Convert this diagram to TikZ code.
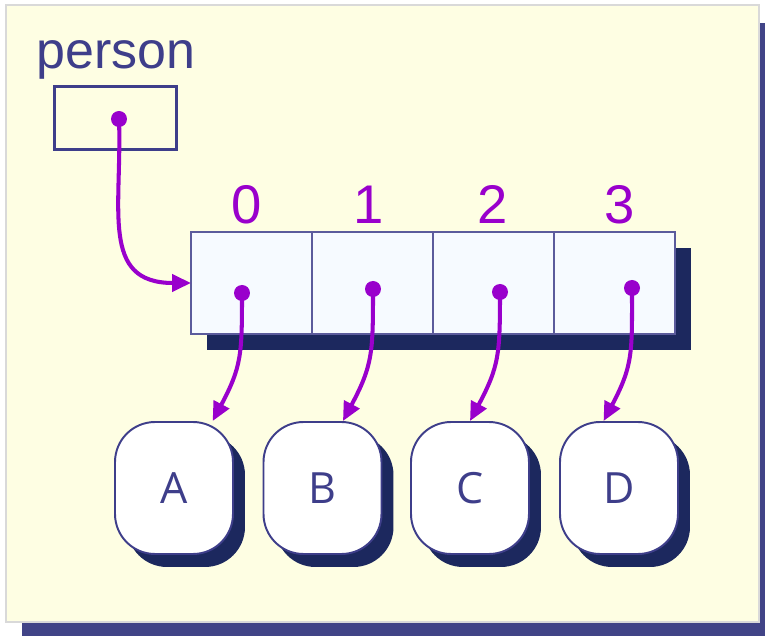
\documentclass[tikz,border=0pt]{standalone}
\usepackage{fontspec}
\setmainfont{Liberation Sans}
\newfontfamily\letterfont{Open Sans}
\usetikzlibrary{arrows.meta,shadows,positioning}
\definecolor{panel}{RGB}{254,254,227}
\definecolor{panelline}{RGB}{217,217,217}
\definecolor{panelshadow}{RGB}{65,68,135}
\definecolor{navy}{RGB}{62,62,138}
\definecolor{shadownavy}{RGB}{28,40,94}
\definecolor{ptrcol}{RGB}{153,0,204}
\definecolor{cellfill}{RGB}{246,250,255}

\begin{document}
\begin{tikzpicture}[x=0.02cm,y=0.02cm,
    cell/.style={draw=navy!85, line width=1.1pt, fill=cellfill, outer sep=0pt, inner sep=0pt,
        minimum width=2.42cm, minimum height=2.04cm,
        drop shadow={fill=shadownavy, opacity=1, shadow xshift=0.32cm, shadow yshift=-0.32cm}},
    obj/.style={draw=navy, line width=1.1pt, fill=white, rounded corners=0.8cm, inner sep=0pt,
        minimum width=2.36cm, minimum height=2.64cm, text=navy, font=\letterfont\fontsize{24.5}{26}\selectfont,
        drop shadow={fill=shadownavy, opacity=1, shadow xshift=0.24cm, shadow yshift=-0.26cm}},
    idx/.style={text=ptrcol, anchor=base, font=\fontsize{31}{33}\selectfont},
    pointer/.style={ptrcol, line width=2.3pt, -{Triangle[length=0.38cm,width=0.34cm]}}]
    \useasboundingbox (0,0) rectangle (765,636);
    \fill[white] (0,0) rectangle (765,636);
    \fill[panelshadow] (22,-4) rectangle (776,613);
    \draw[panelline, fill=panel, line width=1.2pt] (6,14) rectangle (759,631);

    \node[text=navy, anchor=base, font=\fontsize{29.6}{32}\selectfont] (name) at (116,567) {person};
    \node[draw=navy, line width=1.7pt, minimum width=2.44cm, minimum height=1.26cm] (var) at (115.5,518) {};
    \coordinate (p) at (119,517);

    \node[cell] (c0) at (251.5,353) {};
    \node[cell, right=0pt of c0] (c1) {};
    \node[cell, right=0pt of c1] (c2) {};
    \node[cell, right=0pt of c2] (c3) {};

    \node[idx] (i0) at (247,412) {0};
    \node[idx] (i1) at (369,412) {1};
    \node[idx] (i2) at (493,412) {2};
    \node[idx] (i3) at (620,412) {3};

    \coordinate (d0) at (242,343);
    \coordinate (d1) at (373,347);
    \coordinate (d2) at (500,344);
    \coordinate (d3) at (632,348);

    \node[obj] (A) at (174,148) {A};
    \node[obj] (B) at (322.5,148) {B};
    \node[obj] (C) at (470,148) {C};
    \node[obj] (D) at (619,148) {D};

    \draw[pointer] (p) to[out=-88, in=180, looseness=1.3] (c0.west);
    \draw[pointer] (d0) to[out=-90, in=62, looseness=1.2] (A.60);
    \draw[pointer] (d1) to[out=-90, in=62, looseness=1.2] (B.73);
    \draw[pointer] (d2) to[out=-90, in=62, looseness=1.2] (C.north);
    \draw[pointer] (d3) to[out=-90, in=62, looseness=1.2] (D.103);

    \foreach \d in {p,d0,d1,d2,d3}
        \fill[ptrcol] (\d) circle (0.16cm);
\end{tikzpicture}
\end{document}
